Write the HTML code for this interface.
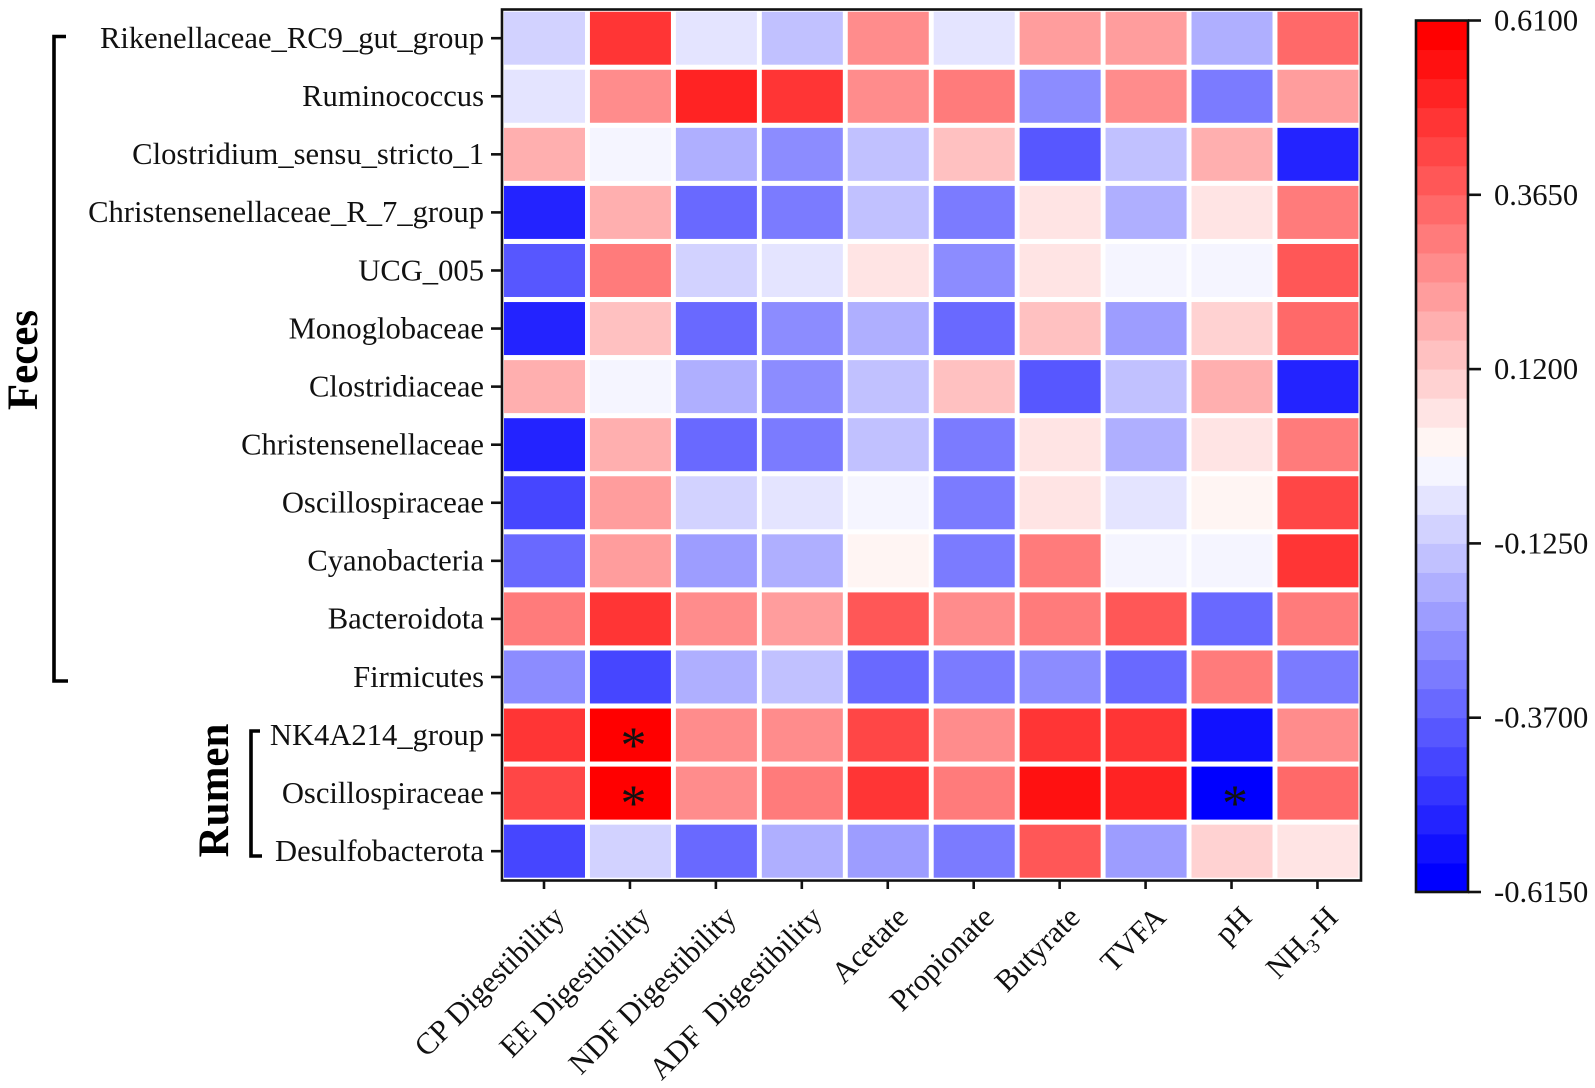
<!DOCTYPE html>
<html lang="en">
<head>
<meta charset="utf-8">
<title>Correlation heatmap</title>
<style>
  html, body { margin: 0; padding: 0; background: #fff; }
  svg { display: block; font-family: "Liberation Serif", serif; fill: #000; }
  .lbl { font-size: 30.6px; fill: #111; }
  .grp { font-size: 43px; font-weight: bold; fill: #000; }
</style>
</head>
<body>
<svg id="chart" xmlns="http://www.w3.org/2000/svg" width="1595" height="1088" viewBox="0 0 1595 1088">
  <rect x="0" y="0" width="1595" height="1088" fill="#ffffff"/>
  <g id="cells"></g>
  <g id="yaxis"></g>
  <g id="xaxis"></g>
  <rect x="502" y="9.5" width="859" height="871" fill="none" stroke="#111" stroke-width="2.6"/>
  <g id="colorbar"></g>
  <path d="M66 36.5H54V681H68" fill="none" stroke="#000" stroke-width="3.6"/>
  <text class="grp" transform="translate(37 360) rotate(-90)" text-anchor="middle">Feces</text>
  <path d="M260 731H251V856H262" fill="none" stroke="#000" stroke-width="3.6"/>
  <text class="grp" transform="translate(228 790.5) rotate(-90)" text-anchor="middle">Rumen</text>
</svg>
<script>
const rowLabels = ["Rikenellaceae_RC9_gut_group", "Ruminococcus", "Clostridium_sensu_stricto_1", "Christensenellaceae_R_7_group", "UCG_005", "Monoglobaceae", "Clostridiaceae", "Christensenellaceae", "Oscillospiraceae", "Cyanobacteria", "Bacteroidota", "Firmicutes", "NK4A214_group", "Oscillospiraceae", "Desulfobacterota"];
const columnLabels = ["CP Digestibility", "EE Digestibility", "NDF Digestibility", "ADF  Digestibility", "Acetate", "Propionate", "Butyrate", "TVFA", "pH", "NH3-H"];
const cellValues = [
  [-0.10, 0.47, -0.06, -0.14, 0.265, -0.06, 0.22, 0.22, -0.18, 0.345],
  [-0.06, 0.265, 0.51, 0.47, 0.265, 0.305, -0.265, 0.265, -0.305, 0.22],
  [0.18, -0.02, -0.18, -0.265, -0.14, 0.14, -0.385, -0.14, 0.18, -0.51],
  [-0.51, 0.18, -0.345, -0.305, -0.14, -0.305, 0.06, -0.18, 0.06, 0.305],
  [-0.385, 0.305, -0.10, -0.06, 0.06, -0.265, 0.06, -0.02, -0.02, 0.385],
  [-0.51, 0.14, -0.345, -0.265, -0.18, -0.345, 0.14, -0.22, 0.10, 0.345],
  [0.18, -0.02, -0.18, -0.265, -0.14, 0.14, -0.385, -0.14, 0.18, -0.51],
  [-0.51, 0.18, -0.345, -0.305, -0.14, -0.305, 0.06, -0.18, 0.06, 0.305],
  [-0.43, 0.22, -0.10, -0.06, -0.02, -0.305, 0.06, -0.06, 0.02, 0.43],
  [-0.345, 0.22, -0.22, -0.18, 0.02, -0.305, 0.305, -0.02, -0.02, 0.47],
  [0.305, 0.47, 0.265, 0.22, 0.385, 0.265, 0.305, 0.385, -0.345, 0.305],
  [-0.265, -0.43, -0.18, -0.14, -0.345, -0.305, -0.265, -0.345, 0.305, -0.305],
  [0.47, 0.59, 0.265, 0.265, 0.43, 0.265, 0.47, 0.47, -0.55, 0.265],
  [0.43, 0.59, 0.265, 0.305, 0.47, 0.305, 0.55, 0.51, -0.59, 0.345],
  [-0.43, -0.10, -0.345, -0.18, -0.22, -0.305, 0.385, -0.22, 0.10, 0.06]
];
const significantRows = [12, 13, 13];
const significantColumns = [1, 1, 8];
const colorTickLabels = ["0.6100", "0.3650", "0.1200", "-0.1250", "-0.3700", "-0.6150"];
const colorTickValues = [0.61, 0.365, 0.12, -0.125, -0.37, -0.615];

const NS = "http://www.w3.org/2000/svg";
const domainMin = -0.615, domainMax = 0.61, bandCount = 30;
function make(tag, parent, attrs) {
  const el = document.createElementNS(NS, tag);
  for (const k in attrs) el.setAttribute(k, attrs[k]);
  parent.appendChild(el);
  return el;
}
const colLeft = j => 504 + 85.94 * j;
const colCenter = j => colLeft(j) + 40.5;
const rowTop = i => 11.7 + 58.07 * i;
const rowCenter = i => rowTop(i) + 26.5;
const barY = v => 20.5 + (domainMax - v) / (domainMax - domainMin) * 871.5;
function bandIndex(v) {
  const i = Math.floor((v - domainMin) / (domainMax - domainMin) * bandCount);
  return Math.max(0, Math.min(bandCount - 1, i));
}
function bandColor(i) {
  const half = bandCount / 2;
  const red = i >= half;
  const k = red ? i - half : half - 1 - i;
  const c = Math.round(245 * (1 - k / 14));
  return red ? `rgb(255,${c},${Math.max(0, c - (k === 0 ? 2 : 0))})` : `rgb(${c},${c},255)`;
}
const colorOf = v => bandColor(bandIndex(v));

const cellsG = document.getElementById("cells");
cellValues.forEach((row, i) => row.forEach((v, j) => {
  const r = make("rect", cellsG, { x: colLeft(j), y: rowTop(i), width: 81, height: 53, fill: colorOf(v) });
  
  
}));
significantRows.forEach((i, n) => {
  const j = significantColumns[n];
  const t = make("text", cellsG, { x: colCenter(j) + 3, y: rowCenter(i) + 27.5, "text-anchor": "middle", "font-size": 52, fill: "#111" });
  
  
  t.textContent = "*";
});

const yG = document.getElementById("yaxis");
rowLabels.forEach((name, i) => {
  const y = rowCenter(i);
  const tick = make("line", yG, { x1: 491, x2: 502, y1: y, y2: y, stroke: "#111", "stroke-width": 2.6 });
  
  
  const t = make("text", yG, { class: "lbl", x: 484, y: y + 9.8, "text-anchor": "end" });
  
  
  t.textContent = name;
});

const xG = document.getElementById("xaxis");
columnLabels.forEach((name, j) => {
  const x = colCenter(j) - 0.5;
  const tick = make("line", xG, { x1: x, x2: x, y1: 880, y2: 889, stroke: "#111", "stroke-width": 2.6 });
  
  
  const t = make("text", xG, { class: "lbl", "text-anchor": "end", transform: `translate(${x + 22} 919) rotate(-45)` });
  
  
  t.setAttribute("xml:space", "preserve");
  t.style.whiteSpace = "pre";
  const sub = name.match(/^(NH)(3)(-H)$/);
  if (sub) {
    make("tspan", t, {}).textContent = sub[1];
    make("tspan", t, { "font-size": "20px", dy: 7 }).textContent = sub[2];
    make("tspan", t, { dy: -7 }).textContent = sub[3];
  } else {
    t.textContent = name;
  }
});

const barG = document.getElementById("colorbar");
for (let i = 0; i < bandCount; i++) {
  const hi = domainMin + (i + 1) / bandCount * (domainMax - domainMin);
  const lo = domainMin + i / bandCount * (domainMax - domainMin);
  const band = make("rect", barG, { x: 1416, y: barY(hi), width: 52, height: barY(lo) - barY(hi) + 0.5, fill: bandColor(i) });
  
  
}
const barFrame = make("rect", barG, { x: 1416, y: barY(domainMax), width: 52, height: barY(domainMin) - barY(domainMax), fill: "none", stroke: "#111", "stroke-width": 2.6 });


colorTickValues.forEach((v, n) => {
  const y = barY(v);
  const tick = make("line", barG, { x1: 1468, x2: 1481, y1: y, y2: y, stroke: "#111", "stroke-width": 2.6 });
  
  
  const t = make("text", barG, { class: "lbl", x: 1494, y: y + 10 });
  
  
  t.textContent = colorTickLabels[n];
});
</script>
</body>
</html>
